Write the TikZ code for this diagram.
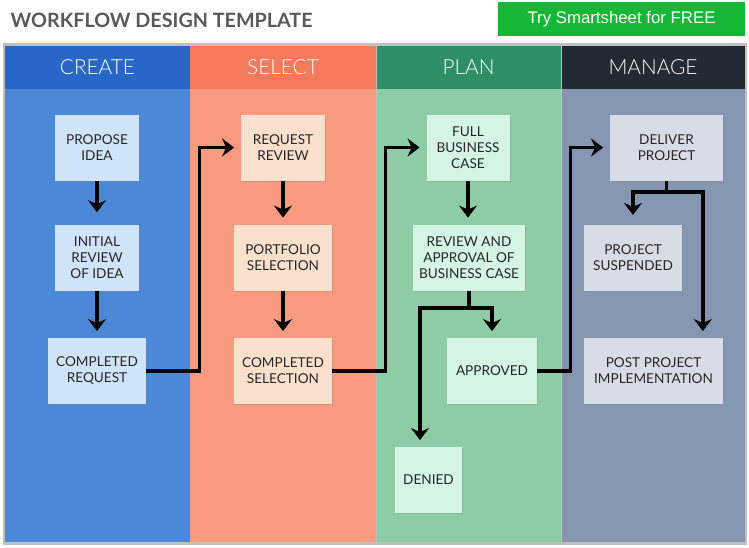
\documentclass[tikz,border=0pt]{standalone}
\usepackage{xcolor}
\usepackage{fontspec}
\setmainfont{Lato}
\newfontfamily\thinfont{Lato Light}
\newfontfamily\btnfont{Liberation Sans}
\usetikzlibrary{arrows.meta,shadows}

\definecolor{titlegray}{RGB}{89,89,89}
\definecolor{btngreen}{RGB}{20,184,52}
\definecolor{framegray}{RGB}{192,192,192}
\definecolor{boxtext}{RGB}{38,38,38}
\definecolor{createhead}{RGB}{40,103,200}
\definecolor{createbody}{RGB}{75,136,215}
\definecolor{createbox}{RGB}{207,228,248}
\definecolor{selecthead}{RGB}{244,122,91}
\definecolor{selectbody}{RGB}{248,154,128}
\definecolor{selectbox}{RGB}{252,224,206}
\definecolor{planhead}{RGB}{46,143,102}
\definecolor{planbody}{RGB}{141,204,165}
\definecolor{planbox}{RGB}{212,245,227}
\definecolor{managehead}{RGB}{34,42,51}
\definecolor{managebody}{RGB}{132,150,176}
\definecolor{managebox}{RGB}{215,220,230}

\begin{document}
\begin{tikzpicture}[x=0.75pt,y=-0.75pt,
    stepbox/.style={minimum height=49.5pt,inner sep=2pt,align=center,text=boxtext,
        font=\fontsize{10.2}{12}\selectfont,
        drop shadow={shadow xshift=0.8pt,shadow yshift=-0.8pt,opacity=0.3}},
    headtext/.style={text=white,font=\thinfont\fontsize{15.6}{18}\selectfont},
    flow/.style={line width=2.6pt,shorten >=5pt,-{Stealth[length=9pt,width=13.5pt,inset=3pt]}},
    joint/.style={line width=2.6pt}]
\useasboundingbox (0,0) rectangle (749,547);

    % Title and button
    \node (title) [anchor=west,text=titlegray,font=\bfseries\fontsize{14.8}{16}\selectfont] at (6,20) {WORKFLOW DESIGN TEMPLATE};
    \node (btn) [fill=btngreen,text=white,minimum width=185.25pt,minimum height=25.5pt,
        font=\btnfont\fontsize{12.6}{14}\selectfont] at (621.5,19) {Try Smartsheet for FREE};

    % Frame and columns
    \fill[framegray] (3,43) rectangle (747,545);
    \fill[createbody] (5,89) rectangle (190,542);
    \fill[selectbody] (190,89) rectangle (375.5,542);
    \fill[planbody] (376.5,89) rectangle (560.5,542);
    \fill[managebody] (561.5,89) rectangle (745,542);
    \fill[createhead] (5,46) rectangle (190,89);
    \fill[selecthead] (190,46) rectangle (375.5,89);
    \fill[planhead] (376.5,46) rectangle (560.5,89);
    \fill[managehead] (561.5,46) rectangle (745,89);
    \node (hcreate) [headtext] at (97.5,67.5) {CREATE};
    \node (hselect) [headtext] at (283,67.5) {SELECT};
    \node (hplan) [headtext] at (468.5,67.5) {PLAN};
    \node (hmanage) [headtext] at (653,67.5) {MANAGE};

    % Create
    \node (propose) [stepbox,fill=createbox,minimum width=63pt] at (97,147.5) {PROPOSE\\IDEA};
    \node (initial) [stepbox,fill=createbox,minimum width=63pt] at (97,257.5) {INITIAL\\REVIEW\\OF IDEA};
    \node (compreq) [stepbox,fill=createbox,minimum width=73.5pt] at (97,371) {COMPLETED\\REQUEST};

    % Select
    \node (reqrev) [stepbox,fill=selectbox,minimum width=63pt] at (283,147.5) {REQUEST\\REVIEW};
    \node (portfolio) [stepbox,fill=selectbox,minimum width=73.5pt] at (283,257.5) {PORTFOLIO\\SELECTION};
    \node (compsel) [stepbox,fill=selectbox,minimum width=73.5pt] at (283,371) {COMPLETED\\SELECTION};

    % Plan
    \node (fullbc) [stepbox,fill=planbox,minimum width=62.25pt] at (468,147.5) {FULL\\BUSINESS\\CASE};
    \node (reviewbc) [stepbox,fill=planbox,minimum width=84pt] at (469,257.5) {REVIEW AND\\APPROVAL OF\\BUSINESS CASE};
    \node (approved) [stepbox,fill=planbox,minimum width=67.5pt] at (492,371) {APPROVED};
    \node (denied) [stepbox,fill=planbox,minimum width=50.25pt] at (428.5,480) {DENIED};

    % Manage
    \node (deliver) [stepbox,fill=managebox,minimum width=84.75pt] at (666.5,147.5) {DELIVER\\PROJECT};
    \node (suspended) [stepbox,fill=managebox,minimum width=73.5pt] at (633,257.5) {PROJECT\\SUSPENDED};
    \node (postproj) [stepbox,fill=managebox,minimum width=104.25pt] at (653.5,371) {POST PROJECT\\IMPLEMENTATION};

    % Arrows
    \draw[flow,shorten >=9pt] (propose.south) -- (initial.north);
    \draw[flow] (initial.south) -- (compreq.north);
    \draw[flow] (reqrev.south) -- (portfolio.north);
    \draw[flow] (portfolio.south) -- (compsel.north);
    \draw[flow] (fullbc.south) -- (reviewbc.north -| fullbc.south);
    \draw[flow] (compreq.east) -- ++(53,0) |- (reqrev.west);
    \draw[flow] (compsel.east) -- ++(53,0) |- (fullbc.west);
    \draw[flow] (approved.east) -- ++(33,0) |- (deliver.west);

    % Branches
    \draw[joint] (reviewbc.south) -- ++(0,17) coordinate (pj);
    \draw[flow] (pj) -| (approved.north);
    \draw[flow] (pj) -| ([xshift=-6.4pt]denied.north);
    \draw[joint] (deliver.south) -- ++(0,11) coordinate (mj);
    \draw[flow,shorten >=7pt] (mj) -| (suspended.north);
    \draw[flow] (mj) -| ([xshift=37pt]postproj.north);
\end{tikzpicture}
\end{document}
